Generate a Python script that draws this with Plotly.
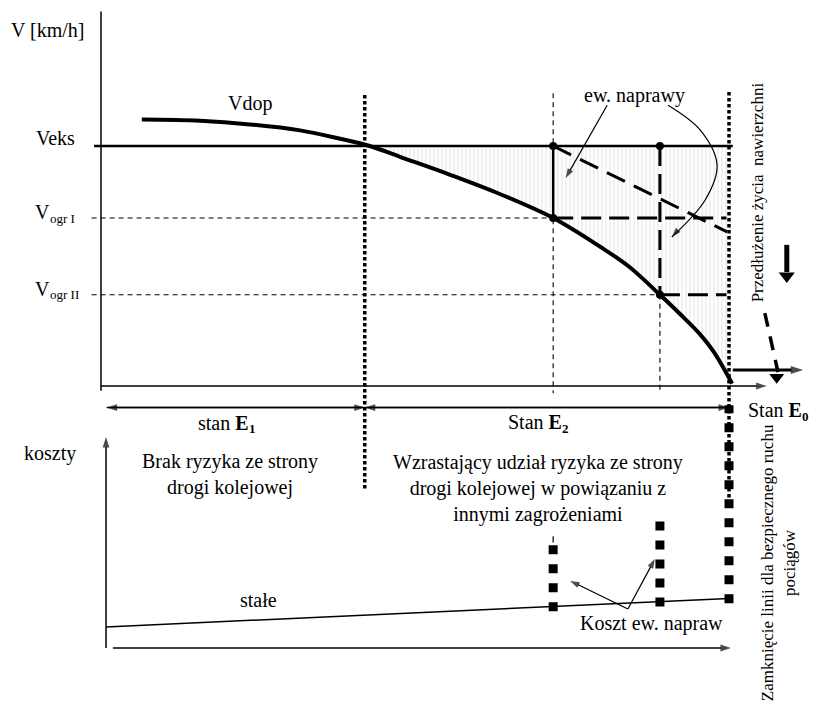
import plotly.graph_objects as go

# ---------------- data (diagram units) ----------------
# state axis t: 0 = new track ... 100 = state E0
# speed axis V: Veks = 100 ; cost axis K (lower panel)
t_e1, t_r1, t_r2, t_e0 = 42.0, 72.0, 89.0, 100.0
v_eks, v_ogr1, v_ogr2 = 100.0, 70.0, 38.0

vdop_t = [6.5, 15.8, 23.7, 31.7, 38.1, 42.8, 47.6, 55.6, 63.5, 72.0, 79.5, 84.2, 89.0, 92.2, 95.4, 97.5, 100.5]
vdop_v = [111, 110.5, 109, 106.5, 103, 100, 95.5, 88, 80, 70, 58, 49.5, 38, 30, 21.5, 14.5, 1]

stale_t = [0.8, 100.0]          # fixed costs line
stale_k = [10.0, 23.5]

repair_t = [72.0, 89.0, 100.0]   # repair-cost columns
repair_k_top = [50.0, 62.5, 115.0]

# extended-life (dashed) continuation after E0
ext_t = [105.7, 107.8]
ext_v = [30.4, 5.8]

# ---------------- layout mapping (pixels) ----------------
W, H = 814, 706
PX_T0, PX_PER_T = 101.0, 6.28
PY_V0, PX_PER_V = 386.0, 2.4
PY_K0, PX_PER_K = 648.0, 2.11

FONT = "Liberation Serif, Times New Roman, serif"
BLACK = "black"

fig = go.Figure()


def seg(x, y, width=1.5, dash="solid", yaxis="y", shape="linear", color=BLACK):
    fig.add_trace(go.Scatter(x=x, y=y, mode="lines", yaxis=yaxis, hoverinfo="skip",
                             line=dict(color=color, width=width, dash=dash, shape=shape)))


def arrow(x, y, yaxis="y", width=1.5, size=10, shape="linear"):
    """line through x/y with an arrow head at the last point"""
    sizes = [0] * (len(x) - 1) + [size]
    fig.add_trace(go.Scatter(x=x, y=y, mode="lines+markers", yaxis=yaxis, hoverinfo="skip",
                             line=dict(color=BLACK, width=width, shape=shape),
                             marker=dict(symbol="arrow", angleref="previous", size=sizes,
                                         color=BLACK, line=dict(width=0))))


def point(x, y, symbol, size, yaxis="y"):
    fig.add_trace(go.Scatter(x=x, y=y, mode="markers", yaxis=yaxis, hoverinfo="skip",
                             marker=dict(color=BLACK, size=size, symbol=symbol, line=dict(width=0))))


def stale_at(t):
    return stale_k[0] + (stale_k[1] - stale_k[0]) * (t - stale_t[0]) / (stale_t[1] - stale_t[0])


# hatched area between Veks and Vdop
i0 = vdop_v.index(100)
fig.add_trace(go.Scatter(x=vdop_t[i0:], y=[v_eks] * len(vdop_t[i0:]), mode="lines",
                         line=dict(width=0, color="rgba(0,0,0,0)"), hoverinfo="skip"))
fig.add_trace(go.Scatter(x=vdop_t[i0:], y=vdop_v[i0:], mode="lines", fill="tonexty",
                         line=dict(width=0, color="rgba(0,0,0,0)", shape="spline"),
                         fillcolor="rgba(0,0,0,0)",
                         fillpattern=dict(shape="|", fgcolor="#cfcfcf", bgcolor="rgba(255,255,255,0)",
                                          size=4, solidity=0.3),
                         hoverinfo="skip"))

# upper panel axis (vertical)
seg([0, 0], [-2, 156], width=1.5)

# Veks line
seg([-1.1, 100.6], [v_eks, v_eks], width=2.5)

# Vogr lines (thin dashed to crossing, then thick dashed)
seg([-1.5, t_r1], [v_ogr1, v_ogr1], width=1.1, dash="5px,4px")
seg([-1.5, t_r2], [v_ogr2, v_ogr2], width=1.1, dash="5px,4px")
seg([t_r1, 99.6], [v_ogr1, v_ogr1], width=3, dash="20px,8px")
seg([t_r2, 99.6], [v_ogr2, v_ogr2], width=3, dash="20px,8px")

# vertical state lines
seg([t_e1, t_e1], [121.3, -43.3], width=3.5, dash="3.5px,2.5px")
seg([t_r1, t_r1], [122.0, -3.0], width=1.1, dash="5px,4px")
seg([t_r2, t_r2], [v_ogr2, -3.0], width=1.1, dash="5px,4px")
seg([t_e0, t_e0], [122.5, -49.6], width=3.5, dash="3.5px,2.5px")

# repairs
seg([t_r1, t_r1], [v_eks, v_ogr1], width=2.5)
seg([t_r2, t_r2], [v_eks, v_ogr2], width=3, dash="20px,8px")
seg([t_r1, 99.7], [v_eks, 64.2], width=3, dash="20px,10px")

# extended life dashed continuation
seg(ext_t, ext_v, width=3.5, dash="14px,10px")

# Vdop curve
seg(vdop_t, vdop_v, width=4, shape="spline")

# repair points
point([t_r1, t_r1, t_r2, t_r2], [v_eks, v_ogr1, v_eks, v_ogr2], "circle", 8)
# triangle under E0 arrow
point([107.6], [3.6], "triangle-down", 13)

# arrows (upper part)
arrow([0, 106.0], [0, 0], width=1.5, size=11)                 # time axis
arrow([100.6, 111.8], [6.7, 6.7], width=3, size=13)           # E0 extension arrow
seg([109.2, 109.2], [58.8, 47.5], width=5)                    # downward thick arrow
point([109.2], [45.8], "triangle-down", 14)
arrow([t_e1, 0.9], [-9, -9], width=1.5, size=11)              # stan E1 range
arrow([0.9, t_e1], [-9, -9], width=1.5, size=11)
arrow([t_e0, t_e1], [-9, -9], width=1.5, size=11)             # stan E2 range
arrow([t_e1, t_e0], [-9, -9], width=1.5, size=11)
arrow([80.6, 74.0], [117, 86.7], width=1.2, size=10)          # ew. naprawy
arrow([90.3, 95.4, 98.1, 96.2, 90.9], [117, 106.7, 92.1, 77.5, 62.1], width=1.2, size=10, shape="spline")

# ---------------- lower panel ----------------
seg(stale_t, stale_k, width=1.5, yaxis="y2")
for t, top in zip(repair_t, repair_k_top):
    seg([t, t], [stale_at(t) - 2.3, top], width=9, dash="9px,10px", yaxis="y2")
seg([t_r1, t_r1], [50, 53], width=1.2, yaxis="y2")

arrow([0.8, 0.8], [0, 100], yaxis="y2", width=1.5, size=11)      # cost axis
arrow([1.9, 100.3], [0, 0], yaxis="y2", width=1.5, size=11)      # time axis
arrow([83.9, 74.7], [18.5, 31.8], yaxis="y2", width=1.2, size=10)
arrow([83.9, 88.2], [18.5, 42.2], yaxis="y2", width=1.2, size=10)

# ---------------- labels ----------------
ann = []


def label(x, y, text, yref="y", size=20, xanchor="center", angle=0, yshift=0, xshift=0):
    ann.append(dict(x=x, y=y, xref="x", yref=yref, text=text, showarrow=False,
                    xanchor=xanchor, yanchor="middle", textangle=angle, yshift=yshift, xshift=xshift,
                    borderpad=0, font=dict(family=FONT, size=size, color=BLACK)))


def sub_label(x, y, main, sub, yref="y"):
    """main text ending at x, subscript starting at x"""
    label(x, y, main, yref=yref, xanchor="right", xshift=1)
    label(x, y, sub, yref=yref, size=13, xanchor="left", yshift=-6, xshift=-1)


label(-8.4, 148.3, "V [km/h]")
label(23.7, 117.9, "Vdop")
label(-7.3, 103.3, "Veks")
sub_label(-8.2, 72.5, "V", "ogr I")
sub_label(-8.2, 40.5, "V", "ogr II")
label(85.0, 121.0, "ew. naprawy")
label(104.5, 80.8, "Przedłużenie życia  nawierzchni", size=17, angle=-90)
sub_label(23.6, -15.4, "stan <b>E</b>", "<b>1</b>")
sub_label(73.4, -15.0, "Stan <b>E</b>", "<b>2</b>")
sub_label(111.6, -10.0, "Stan <b>E</b>", "<b>0</b>")
label(-8.1, 92.4, "koszty", yref="y2")
label(20.5, 82.0, "Brak ryzyka ze strony<br>drogi kolejowej", yref="y2")
label(69.6, 75.8, "Wzrastający udział ryzyka ze strony<br>drogi kolejowej w powiązaniu z<br>innymi zagrożeniami",
      yref="y2")
label(25.0, 22.7, "stałe", yref="y2")
label(87.7, 11.8, "Koszt ew. napraw", yref="y2")
label(108.0, 40.3, "Zamknięcie linii dla bezpiecznego ruchu<br>pociągów", yref="y2", size=17, angle=-90)

fig.update_layout(
    width=W, height=H, margin=dict(l=0, r=0, t=0, b=0),
    paper_bgcolor="white", plot_bgcolor="white", showlegend=False,
    xaxis=dict(range=[-PX_T0 / PX_PER_T, (W - PX_T0) / PX_PER_T], visible=False, fixedrange=True),
    yaxis=dict(range=[(PY_V0 - H) / PX_PER_V, PY_V0 / PX_PER_V], visible=False, fixedrange=True),
    yaxis2=dict(range=[(PY_K0 - H) / PX_PER_K, PY_K0 / PX_PER_K], visible=False, overlaying="y",
                fixedrange=True),
    annotations=ann,
    font=dict(family=FONT, size=20, color=BLACK),
)

fig.write_html("out.html", config={"displayModeBar": False},
               post_script="document.body.style.margin='0px';")
